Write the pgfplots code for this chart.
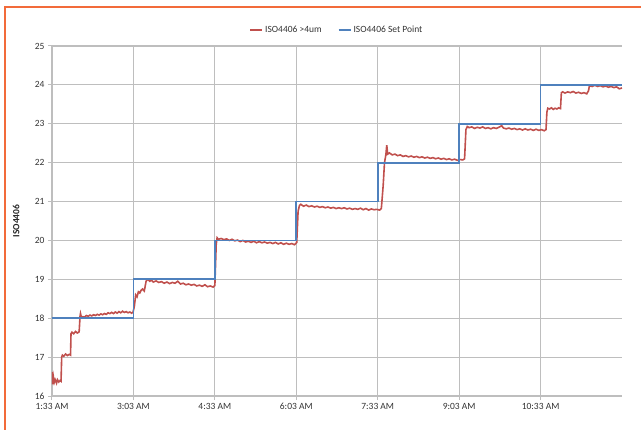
\documentclass[border=0pt]{standalone}
\usepackage{pgfplots}
\pgfplotsset{compat=1.18}
\usepackage{fontspec}
\setmainfont{Carlito}
\definecolor{redline}{HTML}{C0504D}
\definecolor{blueline}{HTML}{4F81BD}
\definecolor{gridc}{HTML}{BEBEBE}
\definecolor{bordc}{HTML}{F26B3A}
\begin{document}
\begin{tikzpicture}
\begin{axis}[
  name=ax,
  scale only axis, width=570pt, height=350pt,
  xmin=0, xmax=630, ymin=16, ymax=25,
  axis x line=bottom, axis y line=left,
  axis line style={gridc, line width=1pt, -},
  xtick={0,90,180,270,360,450,540},
  xticklabels={1:33 AM,3:03 AM,4:33 AM,6:03 AM,7:33 AM,9:03 AM,10:33 AM},
  ytick={16,17,...,25},
  grid=major,
  major grid style={gridc, line width=1.1pt},
  tick style={gridc, line width=1pt},
  tick align=outside, major tick length=4pt,
  /pgf/number format/assume math mode=true,
  ticklabel style={font=\fontsize{9.5}{11}\selectfont, text=black!80},
  ylabel={ISO4406},
  ylabel style={at={(axis description cs:-0.063,0.5)}, anchor=center, font=\fontsize{9.5}{11}\selectfont\bfseries, text=black!85},
  legend columns=2,
  legend style={at={(axis description cs:0.5,1)}, anchor=center, yshift=16pt, draw=none, fill=none,
    font=\fontsize{9.5}{11}\selectfont, text=black!80,
    /tikz/every even column/.append style={column sep=14pt}},
  legend image code/.code={\draw[#1] (0pt,0pt) -- (12pt,0pt);},
]
\addplot[redline, line width=1.6pt] coordinates {
(0,16.62)(0.5,16.3)(1.5,16.5)(2.5,16.35)(3.5,16.42)(5,16.33)(6,16.42)(7.5,16.36)(9,16.4)(10,16.38)
(10.7,17.0)(11.5,17.05)(13,17.02)(15,17.08)(17,17.04)(19,17.07)(20.5,17.05)
(21,17.6)(22,17.64)(24,17.6)(26,17.66)(28,17.62)(30,17.65)
(31,18.05)(31.5,18.12)(32.5,18.02)(34,18.04)(36,18.03)(38,18.07)(40,18.05)(42,18.08)(44,18.06)(46,18.09)(48,18.07)(50,18.1)
(52,18.08)(54,18.11)(56,18.09)(58,18.12)(60,18.1)(62,18.14)(64,18.12)(66,18.15)(68,18.12)(70,18.16)(72,18.13)(74,18.17)
(76,18.14)(78,18.18)(80,18.15)(82,18.17)(84,18.14)(86,18.16)(88,18.13)(89.5,18.15)
(91,18.3)(92.5,18.6)(94,18.55)(95.5,18.68)(97,18.65)(98.5,18.72)(100,18.75)(102,18.7)(104,18.95)(106,19.0)(108,18.95)
(110,18.98)(112,18.93)(115,18.96)(118,18.92)(121,18.94)(124,18.9)(127,18.93)(130,18.89)(133,18.92)(136,18.9)(139,18.95)
(142,18.88)(145,18.9)(148,18.86)(151,18.88)(154,18.85)(157,18.87)(160,18.83)(163,18.85)(166,18.82)(169,18.86)(172,18.81)
(175,18.83)(178,18.8)(180,18.84)
(181.5,19.9)(182.5,20.07)(184,20.03)(187,20.05)(190,20.02)(193,20.04)(196,20.0)(199,20.03)(202,19.99)(205,20.01)(208,19.97)
(211,20.0)(214,19.96)(217,19.98)(220,19.95)(223,19.98)(226,19.94)(229,19.97)(232,19.94)(235,19.96)(238,19.93)(241,19.95)
(244,19.92)(247,19.95)(250,19.91)(253,19.94)(256,19.9)(259,19.93)(262,19.9)(265,19.92)(268,19.89)(270.5,19.95)
(272,20.75)(273.5,20.9)(275,20.93)(278,20.88)(281,20.91)(284,20.87)(287,20.89)(290,20.86)(293,20.88)(296,20.85)(299,20.87)
(302,20.84)(305,20.86)(308,20.83)(311,20.85)(314,20.82)(317,20.84)(320,20.82)(323,20.84)(326,20.81)(329,20.83)(332,20.8)
(335,20.82)(338,20.8)(341,20.83)(344,20.79)(347,20.82)(350,20.78)(353,20.81)(356,20.79)(359,20.8)(362,20.78)(364,20.82)
(366,21.4)(367.5,22.0)(369,22.2)(370,22.45)(371,22.22)(373,22.25)(376,22.2)(379,22.22)(382,22.18)(385,22.2)(388,22.16)
(391,22.18)(394,22.15)(397,22.17)(400,22.14)(403,22.16)(406,22.13)(409,22.15)(412,22.12)(415,22.14)(418,22.11)(421,22.13)
(424,22.1)(427,22.12)(430,22.09)(433,22.11)(436,22.08)(439,22.1)(442,22.07)(445,22.09)(448,22.06)(451,22.08)(454,22.07)(456,22.1)
(457.5,22.85)(459,22.93)(461,22.9)(464,22.92)(467,22.88)(470,22.91)(473,22.89)(476,22.92)(479,22.88)(482,22.9)(485,22.87)
(488,22.9)(491,22.88)(494,22.91)(497,22.95)(499,22.89)(502,22.87)(505,22.89)(508,22.86)(511,22.88)(514,22.85)(517,22.87)
(520,22.84)(523,22.87)(526,22.84)(529,22.86)(532,22.83)(535,22.86)(538,22.83)(541,22.85)(544,22.82)(546,22.85)
(547,23.3)(548,23.4)(550,23.38)(552,23.41)(554,23.37)(556,23.4)(558,23.38)(560,23.41)(562,23.39)
(563,23.8)(564.5,23.82)(567,23.79)(570,23.82)(573,23.8)(576,23.83)(579,23.79)(582,23.81)(585,23.78)(588,23.8)(591,23.77)(593,23.85)
(594,23.98)(597,23.96)(600,23.99)(603,23.96)(606,23.98)(609,23.95)(612,23.97)(615,23.94)(618,23.96)(621,23.93)(624,23.95)(627,23.9)(630,23.92)
};
\addlegendentry{ISO4406 >4um}
\addplot[blueline, line width=1.8pt] coordinates {
(0,18)(90,18)(90,19)(180,19)(180,20)(270,20)(270,21)(360,21)(360,22)(450,22)(450,23)(540,23)(540,24)(630,24)
};
\addlegendentry{ISO4406 Set Point}
\end{axis}
\draw[bordc, line width=1.5pt] ([shift={(-47pt,-40pt)}]ax.south west) -- ([shift={(-47pt,39pt)}]ax.north west) -- ([shift={(30pt,39pt)}]ax.north east);
\pgfresetboundingbox
\path[use as bounding box] ([shift={(-52pt,-34pt)}]ax.south west) rectangle ([shift={(19pt,46pt)}]ax.north east);
\end{tikzpicture}
\end{document}
